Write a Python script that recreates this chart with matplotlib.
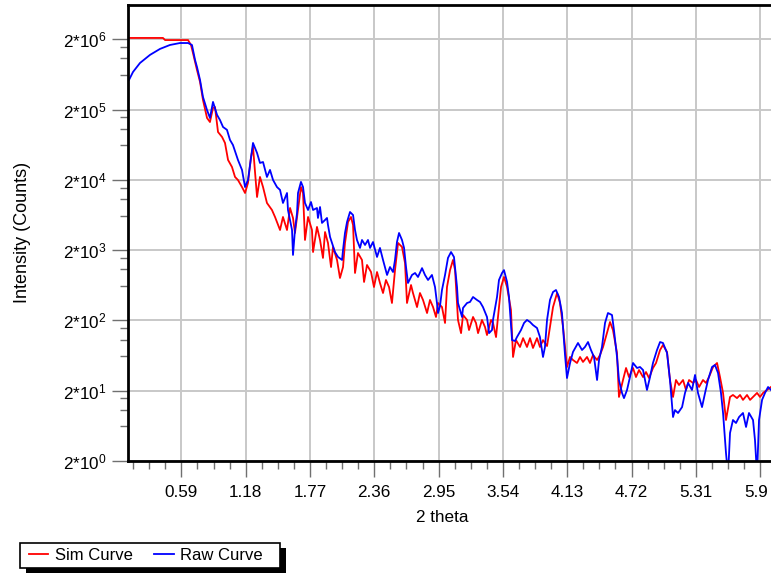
import matplotlib
matplotlib.use('Agg')
import matplotlib.pyplot as plt
import matplotlib.transforms as mtrans
from matplotlib.lines import Line2D
from matplotlib.patches import Rectangle

plt.rcParams['font.family'] = ['Liberation Sans', 'DejaVu Sans']
plt.rcParams['mathtext.fontset'] = 'custom'
plt.rcParams['mathtext.rm'] = 'Liberation Sans'
plt.rcParams['mathtext.default'] = 'regular'

# simulated curve (red)
sim_theta = [0.109, 0.421, 0.440, 0.651, 0.678, 0.696, 0.733, 0.761, 0.788, 0.825,
             0.852, 0.880, 0.898, 0.926, 0.963, 0.990, 1.018, 1.054, 1.082, 1.109,
             1.146, 1.174, 1.201, 1.229, 1.247, 1.284, 1.311, 1.339, 1.375, 1.421,
             1.449, 1.495, 1.522, 1.559, 1.587, 1.614, 1.632, 1.660, 1.687, 1.706,
             1.724, 1.752, 1.788, 1.798, 1.834, 1.862, 1.889, 1.908, 1.935, 1.963,
             1.981, 2.018, 2.045, 2.073, 2.091, 2.119, 2.146, 2.165, 2.183, 2.210,
             2.247, 2.266, 2.293, 2.330, 2.357, 2.385, 2.412, 2.440, 2.467, 2.495,
             2.522, 2.550, 2.578, 2.614, 2.642, 2.660, 2.697, 2.715, 2.752, 2.779,
             2.807, 2.844, 2.871, 2.899, 2.926, 2.945, 2.981, 3.009, 3.027, 3.055,
             3.082, 3.101, 3.128, 3.156, 3.174, 3.211, 3.229, 3.266, 3.293, 3.312,
             3.348, 3.376, 3.394, 3.431, 3.449, 3.477, 3.495, 3.523, 3.550, 3.578,
             3.614, 3.633, 3.660, 3.697, 3.725, 3.761, 3.789, 3.816, 3.853, 3.880,
             3.908, 3.945, 3.972, 4.000, 4.037, 4.064, 4.092, 4.128, 4.156, 4.183,
             4.220, 4.248, 4.275, 4.312, 4.339, 4.367, 4.404, 4.431, 4.459, 4.495,
             4.523, 4.550, 4.587, 4.605, 4.642, 4.670, 4.697, 4.734, 4.761, 4.789,
             4.826, 4.853, 4.881, 4.917, 4.945, 4.982, 5.009, 5.046, 5.073, 5.101,
             5.128, 5.156, 5.193, 5.220, 5.248, 5.284, 5.312, 5.340, 5.376, 5.404,
             5.431, 5.468, 5.505, 5.532, 5.560, 5.587, 5.624, 5.651, 5.688, 5.716,
             5.743, 5.780, 5.808, 5.835, 5.872, 5.899, 5.927, 5.963, 6.000]
sim_counts = [2.09e6, 2.09e6, 1.95e6, 1.95e6, 1.66e6, 1.28e6, 7.32e5, 4.94e5, 2.74e5, 1.52e5,
              1.33e5, 2.11e5, 2.18e5, 9.59e4, 8.15e4, 6.70e4, 3.84e4, 3.05e4, 2.20e4, 1.99e4,
              1.58e4, 1.30e4, 1.81e4, 4.24e4, 5.87e4, 1.14e4, 2.20e4, 1.58e4, 9.38e3, 7.45e3,
              5.93e3, 3.87e3, 5.93e3, 3.87e3, 7.96e3, 5.74e3, 3.51e3, 7.45e3, 1.58e4, 1.30e4,
              2.79e3, 5.93e3, 3.87e3, 1.88e3, 4.28e3, 2.79e3, 1.55e3, 3.62e3, 2.53e3, 1.15e3,
              2.22e3, 1.45e3, 804, 1.15e3, 2.53e3, 5.04e3, 5.93e3, 4.56e3, 946, 1.82e3,
              1.45e3, 705, 1.23e3, 977, 598, 977, 682, 491, 752, 598,
              354, 1.04e3, 2.53e3, 2.22e3, 1.31e3, 354, 638, 491, 310, 491,
              391, 255, 391, 310, 224, 354, 310, 184, 598, 1.04e3,
              1.45e3, 1.04e3, 203, 132, 239, 203, 146, 224, 184, 132,
              203, 161, 124, 203, 184, 116, 224, 598, 830, 598,
              282, 60.4, 105, 83.8, 112, 83.8, 112, 81.1, 112, 83.8,
              105, 86.5, 161, 310, 491, 354, 161, 43.5, 60.4, 54.7,
              49.6, 60.4, 51.3, 60.4, 49.6, 64.4, 54.7, 64.4, 83.8, 132,
              190, 146, 68.9, 16.3, 28.4, 42.1, 31.3, 42.1, 31.3, 39.4,
              31.3, 36.9, 30.3, 42.1, 49.6, 75.9, 89.5, 71.1, 28.4, 16.3,
              28.4, 24.1, 28.4, 20.5, 28.4, 25.8, 28.4, 22.6, 28.4, 25.8,
              31.3, 43.5, 49.6, 31.3, 18.6, 7.66, 16.3, 17.4, 15.7, 17.4,
              14.8, 17.4, 14.8, 16.3, 18.6, 16.3, 18.6, 20.5, 22.6]

# measured curve (blue)
raw_theta = [0.109, 0.146, 0.210, 0.302, 0.394, 0.485, 0.577, 0.651, 0.687, 0.715,
             0.733, 0.761, 0.788, 0.825, 0.852, 0.880, 0.917, 0.944, 0.972, 1.008,
             1.036, 1.063, 1.109, 1.146, 1.174, 1.201, 1.247, 1.284, 1.311, 1.339,
             1.375, 1.403, 1.431, 1.467, 1.495, 1.522, 1.559, 1.568, 1.605, 1.614,
             1.632, 1.651, 1.660, 1.687, 1.706, 1.724, 1.752, 1.779, 1.798, 1.834,
             1.843, 1.862, 1.880, 1.908, 1.926, 1.935, 1.954, 1.972, 1.999, 2.027,
             2.064, 2.073, 2.091, 2.110, 2.137, 2.165, 2.183, 2.201, 2.229, 2.247,
             2.275, 2.302, 2.321, 2.348, 2.385, 2.412, 2.440, 2.477, 2.504, 2.532,
             2.550, 2.568, 2.587, 2.614, 2.633, 2.651, 2.669, 2.706, 2.734, 2.761,
             2.798, 2.825, 2.853, 2.889, 2.917, 2.935, 2.945, 2.963, 2.981, 3.009,
             3.036, 3.064, 3.091, 3.119, 3.128, 3.165, 3.174, 3.211, 3.238, 3.266,
             3.302, 3.330, 3.357, 3.394, 3.413, 3.440, 3.449, 3.486, 3.504, 3.532,
             3.550, 3.578, 3.596, 3.624, 3.651, 3.669, 3.706, 3.734, 3.761, 3.789,
             3.816, 3.853, 3.880, 3.908, 3.926, 3.945, 3.972, 4.000, 4.027, 4.055,
             4.082, 4.110, 4.128, 4.156, 4.183, 4.229, 4.266, 4.293, 4.321, 4.348,
             4.376, 4.404, 4.422, 4.449, 4.477, 4.504, 4.541, 4.559, 4.587, 4.605,
             4.633, 4.651, 4.679, 4.706, 4.734, 4.771, 4.798, 4.826, 4.862, 4.890,
             4.917, 4.954, 4.982, 5.009, 5.046, 5.073, 5.101, 5.119, 5.147, 5.184,
             5.211, 5.239, 5.275, 5.303, 5.330, 5.367, 5.395, 5.422, 5.459, 5.486,
             5.514, 5.541, 5.560, 5.587, 5.606, 5.624, 5.651, 5.679, 5.707, 5.743,
             5.771, 5.798, 5.835, 5.853, 5.872, 5.890, 5.918, 5.945, 5.973, 6.000]
raw_counts = [5.27e5, 6.86e5, 9.2e5, 1.20e6, 1.46e6, 1.66e6, 1.77e6, 1.77e6, 1.66e6, 1.02e6,
              8.07e5, 5.27e5, 3.02e5, 1.97e5, 1.52e5, 2.57e5, 1.68e5, 1.42e5, 1.13e5, 1.03e5,
              7.39e4, 6.27e4, 3.84e4, 2.77e4, 1.58e4, 1.99e4, 6.70e4, 4.83e4, 3.48e4, 3.59e4,
              2.20e4, 2.77e4, 1.99e4, 1.58e4, 1.44e4, 9.38e3, 1.30e4, 7.45e3, 3.87e3, 1.71e3,
              3.87e3, 6.76e3, 1.30e4, 1.87e4, 1.58e4, 9.38e3, 7.45e3, 9.68e3, 7.45e3, 7.96e3,
              5.74e3, 8.22e3, 4.88e3, 5.37e3, 5.74e3, 4.56e3, 3.08e3, 2.53e3, 1.88e3, 1.60e3,
              1.45e3, 2.01e3, 3.51e3, 5.04e3, 6.98e3, 6.32e3, 3.87e3, 2.79e3, 2.15e3, 2.79e3,
              2.37e3, 2.79e3, 2.15e3, 2.61e3, 1.60e3, 2.15e3, 1.45e3, 887, 1.15e3, 977,
              1.45e3, 2.61e3, 3.51e3, 2.79e3, 2.15e3, 1.15e3, 682, 887, 946, 830,
              1.11e3, 887, 752, 887, 598, 354, 255, 321, 542, 887,
              1.55e3, 1.88e3, 1.60e3, 598, 354, 224, 301, 354, 366, 431,
              391, 366, 310, 224, 132, 146, 203, 431, 752, 946,
              1.04e3, 705, 431, 105, 102, 116, 146, 184, 203, 190,
              172, 156, 116, 60.4, 83.8, 203, 391, 508, 542, 431,
              255, 64.4, 30.3, 49.6, 71.1, 95.5, 75.9, 83.8, 98.6, 75.9,
              60.4, 28.4, 54.7, 83.8, 184, 255, 239, 146, 60.4, 28.4,
              18.6, 15.7, 20.5, 31.3, 49.6, 42.1, 43.5, 39.4, 20.5, 31.3,
              49.6, 75.9, 98.6, 95.5, 68.9, 28.4, 8.45, 10.6, 9.64, 11.7,
              18.6, 25.8, 20.5, 33.5, 18.6, 11.7, 18.6, 28.4, 43.5, 46.5,
              35.7, 18.6, 9.64, 2.60, 1.26, 5.01, 7.66, 6.94, 8.45, 9.64,
              6.10, 9.64, 7.66, 3.98, 1.26, 7.66, 14.8, 18.6, 22.6, 20.5]

x_ticks = [0.59, 1.18, 1.77, 2.36, 2.95, 3.54, 4.13, 4.72, 5.31, 5.9]
x_ticklabels = ['0.59', '1.18', '1.77', '2.36', '2.95', '3.54', '4.13', '4.72', '5.31', '5.9']
y_ticks = [2, 20, 200, 2e3, 2e4, 2e5, 2e6]
y_ticklabels = [r'2*10$^{%d}$' % n for n in range(7)]

W, H = 771, 574
fig = plt.figure(figsize=(W / 100, H / 100), dpi=100)
ax = fig.add_axes([128 / W, 113 / H, 643 / W, 456 / H])

ax.plot(sim_theta, sim_counts, color='#ff0000', lw=1.3)
ax.plot(raw_theta, raw_counts, color='#0000ff', lw=1.3)

ax.set_yscale('log')
ax.set_xlim(0.1, 6.0)
ax.set_ylim(2, 6.15e6)

ax.set_xticks(x_ticks)
ax.set_xticklabels(x_ticklabels, fontsize=12.3)
ax.set_xticks([t - k * 0.1475 for t in x_ticks for k in (1, 2, 3)], minor=True)
ax.set_yticks(y_ticks)
ax.set_yticklabels(y_ticklabels, fontsize=12.3)
ax.set_yticks([t * f for t in y_ticks[1:] for f in (0.775, 0.535, 0.31)], minor=True)
ax.yaxis.set_minor_formatter(plt.NullFormatter())

ax.tick_params(which='major', length=11.5, width=1, color='#707070', pad=4)
ax.tick_params(axis='x', which='major', pad=6)
ax.tick_params(which='minor', length=5.5, width=1, color='#707070')

# last label sits a little left so it stays inside the picture
last = ax.get_xticklabels()[-1]
last.set_transform(last.get_transform() + mtrans.ScaledTranslation(-0.04, 0, fig.dpi_scale_trans))

ax.grid(True, which='major', color='#c8c8c8', lw=1.4)
ax.set_axisbelow(True)
for s in ('left', 'bottom', 'top'):
    ax.spines[s].set_linewidth(2.0)
    ax.spines[s].set_color('black')
ax.spines['right'].set_visible(False)

fig.text(22.7 / W, 1 - 232 / H, 'Intensity (Counts)', rotation=90,
         ha='center', va='center', fontsize=13)
fig.text(442 / W, 1 - 517 / H, '2 theta', ha='center', va='center', fontsize=12.3)

# legend box with hard shadow
fig.add_artist(Rectangle((26 / W, 1 - 573 / H), 260 / W, 25 / H, transform=fig.transFigure,
                         facecolor='black', edgecolor='black', lw=0, zorder=1))
fig.add_artist(Rectangle((20 / W, 1 - 568 / H), 260 / W, 25 / H, transform=fig.transFigure,
                         facecolor='white', edgecolor='black', lw=1.2, zorder=2))
handles = [Line2D([], [], color='#ff0000', lw=1.3), Line2D([], [], color='#0000ff', lw=1.3)]
leg = fig.legend(handles, ['Sim Curve', 'Raw Curve'], loc='center left',
                 bbox_to_anchor=(29 / W, 1 - 555.5 / H), ncol=2, fontsize=12,
                 frameon=False, borderpad=0, handlelength=1.15, handletextpad=0.4,
                 columnspacing=1.3, borderaxespad=0)
leg.set_zorder(3)

fig.savefig('out.png', dpi=100)
